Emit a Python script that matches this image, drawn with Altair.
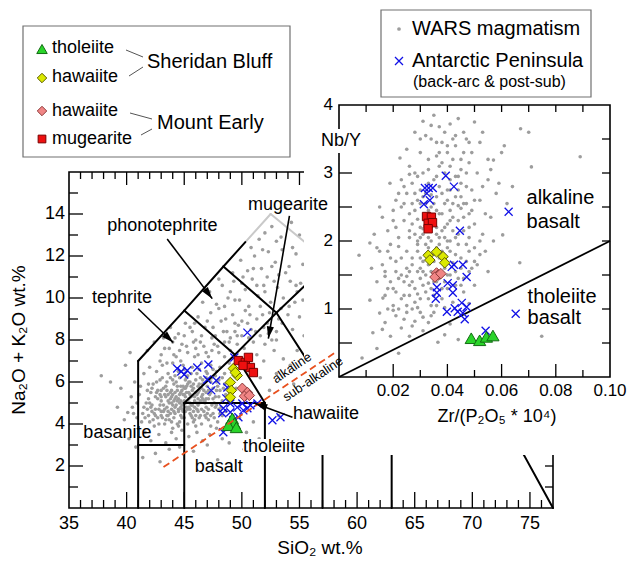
import math
import altair as alt
import pandas as pd

FONT = "Liberation Sans"
W, H = 484, 336
LEFT, TOP, RIGHT, BOTTOM = 69, 172, 76, 54


def px(v):
    return v - LEFT


def py(v):
    return v - TOP


# ---------------- values ----------------
# WARS magmatism, TAS: (SiO2 wt.%, Na2O+K2O wt.%)
wars_tas = [
    (42.1, 3.2), (42.8, 3.5), (43.4, 3.1), (43.9, 3.6), (44.3, 3.3), (44.8, 3.7), (45.4, 3.4), (46.1, 3.6),
    (46.6, 3.2), (47.2, 3.5), (47.8, 3.8), (42.5, 2.6), (43.7, 2.8), (44.6, 2.9), (45.8, 2.7), (47.0, 3.0),
    (48.3, 3.3), (41.6, 3.6), (40.2, 3.3), (40.8, 2.9), (41.4, 2.4), (42.9, 2.2), (47.9, 2.3),
    (41.3, 4.1), (41.9, 4.4), (42.4, 3.9), (42.7, 4.3), (43.0, 4.6), (43.3, 4.0), (43.6, 4.4), (43.9, 4.1),
    (44.2, 4.5), (44.5, 3.9), (44.8, 4.3), (45.1, 4.6), (45.3, 4.0), (45.6, 4.4), (45.9, 4.2), (46.2, 4.6),
    (46.5, 4.0), (46.8, 4.4), (47.1, 4.2), (47.5, 4.5), (47.9, 4.1), (48.3, 4.4), (48.7, 4.0), (42.2, 4.6),
    (44.0, 3.8), (46.0, 3.9), (47.3, 3.9), (40.6, 4.5), (39.8, 4.2),
    (41.5, 4.8), (41.9, 5.2), (42.2, 4.9), (42.5, 5.3), (42.8, 4.7), (43.0, 5.1), (43.3, 5.4), (43.5, 4.8),
    (43.8, 5.2), (44.0, 4.9), (44.3, 5.3), (44.5, 4.7), (44.7, 5.1), (45.0, 5.4), (45.2, 4.8), (45.4, 5.2),
    (45.7, 4.9), (45.9, 5.3), (46.1, 4.7), (46.4, 5.1), (46.6, 5.4), (46.9, 4.8), (47.1, 5.2), (47.4, 4.9),
    (47.7, 5.3), (48.0, 4.7), (48.3, 5.1), (48.6, 5.4), (43.2, 4.6), (44.9, 4.6), (46.3, 5.0), (47.8, 4.9),
    (42.0, 5.0), (43.7, 5.0), (45.5, 5.0), (44.1, 5.1), (46.8, 5.1), (40.9, 5.0), (40.4, 5.3),
    (44.2, 4.8), (44.6, 5.0), (45.0, 5.1), (45.3, 4.7), (45.6, 5.3), (44.8, 5.6), (43.9, 4.7), (45.8, 4.6),
    (46.5, 5.3), (44.4, 5.8), (43.4, 5.3), (45.2, 5.8), (42.7, 5.2), (46.9, 6.2),
    (42.3, 4.2), (42.9, 4.9), (43.1, 4.3), (43.4, 5.8), (43.6, 4.6), (43.9, 5.6), (44.1, 4.3), (44.3, 6.0),
    (44.5, 5.2), (44.7, 4.4), (44.9, 5.0), (45.1, 5.7), (45.3, 5.1), (45.5, 4.5), (45.7, 5.6), (45.9, 4.8),
    (46.1, 5.4), (46.3, 4.3), (46.5, 5.7), (46.7, 4.6), (46.9, 5.2), (47.1, 4.7), (47.3, 5.5), (47.6, 5.0),
    (43.0, 4.4), (43.5, 5.6), (44.0, 5.4), (44.6, 4.1), (45.4, 5.5), (45.8, 5.9), (46.2, 5.2), (46.7, 5.6),
    (47.3, 4.4), (42.5, 4.7), (42.1, 5.5), (41.7, 5.0), (41.4, 4.5), (41.1, 5.4), (40.9, 4.3), (40.5, 4.8),
    (43.8, 6.2), (44.5, 6.5), (45.6, 6.4), (46.4, 6.2), (47.0, 6.4), (47.8, 6.5), (48.3, 6.2), (48.8, 6.0),
    (48.0, 5.3), (48.6, 4.6),
    (41.6, 4.3), (41.8, 4.7), (42.0, 4.1), (42.2, 5.7), (42.4, 4.5), (42.6, 6.0), (42.8, 4.0), (43.0, 5.3),
    (43.2, 4.9), (43.4, 4.2), (43.6, 5.1), (43.8, 4.5), (44.0, 6.1), (44.2, 5.5), (44.4, 4.0), (44.6, 5.4),
    (44.8, 4.9), (45.0, 4.3), (45.2, 6.2), (45.4, 4.8), (45.6, 5.8), (45.8, 4.1), (46.0, 5.5), (46.2, 4.9),
    (46.4, 4.4), (46.6, 6.1), (46.8, 5.0), (47.0, 4.5), (47.2, 5.4), (47.4, 6.2), (47.6, 4.3), (47.8, 5.6),
    (48.0, 6.1), (48.2, 4.8), (48.4, 5.7), (42.1, 4.8), (42.7, 5.6), (43.3, 4.7), (43.9, 5.3), (44.5, 4.6),
    (45.1, 5.3), (45.7, 4.3), (46.3, 5.9), (46.9, 4.3), (47.5, 5.2), (48.1, 4.5), (41.9, 5.9), (42.5, 4.4),
    (43.1, 6.2), (43.7, 4.2), (44.3, 4.9), (44.9, 5.4), (45.5, 4.7), (46.1, 5.0), (46.7, 5.1), (47.3, 6.0),
    (47.9, 5.8), (42.9, 5.4), (43.5, 4.4), (44.1, 4.6), (44.7, 5.8), (45.3, 5.9), (45.9, 5.1), (46.5, 4.7),
    (47.1, 5.6), (47.7, 4.8), (44.4, 5.1), (45.0, 5.7), (45.6, 4.9), (46.2, 5.5), (43.6, 5.4), (44.2, 5.2),
    (44.8, 4.7), (45.4, 6.0), (46.0, 4.4), (46.6, 5.2), (45.1, 5.0), (44.7, 4.8), (45.5, 5.4), (43.9, 5.0),
    (41.8, 5.6), (42.3, 5.9), (42.6, 5.5), (42.9, 6.1), (43.2, 5.7), (43.5, 6.0), (43.8, 5.5), (44.1, 5.9),
    (44.4, 5.6), (44.6, 6.2), (44.9, 5.8), (45.2, 5.5), (45.5, 6.0), (45.8, 5.7), (46.0, 6.1), (46.3, 5.6),
    (46.6, 5.9), (46.9, 5.5), (47.2, 6.1), (47.5, 5.7), (47.8, 6.0), (48.1, 5.6), (48.5, 5.9), (43.0, 5.6),
    (44.7, 5.5), (46.2, 5.8), (47.0, 5.8), (45.1, 6.1), (41.2, 5.8), (40.7, 6.0),
    (42.6, 6.5), (43.1, 6.8), (43.6, 6.4), (44.0, 6.9), (44.5, 6.5), (44.9, 6.8), (45.3, 6.3), (45.7, 6.7),
    (46.1, 6.4), (46.5, 6.9), (46.9, 6.5), (47.3, 6.8), (47.7, 6.3), (48.1, 6.7), (48.5, 6.4), (48.9, 6.9),
    (45.0, 6.6), (46.3, 6.6), (47.5, 6.6), (44.2, 6.3), (49.3, 6.6),
    (43.0, 7.3), (43.7, 7.6), (44.3, 7.2), (44.8, 7.8), (45.3, 7.4), (45.8, 7.9), (46.2, 7.3), (46.7, 7.7),
    (47.1, 7.2), (47.6, 7.8), (48.0, 7.4), (48.5, 7.9), (49.0, 7.5), (49.6, 7.8), (50.2, 7.6), (46.0, 7.6),
    (47.4, 7.5), (44.6, 7.5), (51.0, 7.9), (50.6, 8.1),
    (43.5, 6.9), (44.1, 7.3), (44.7, 7.0), (45.2, 7.7), (45.9, 7.2), (46.4, 7.9), (46.9, 7.4), (47.4, 8.1),
    (47.9, 7.7), (48.4, 8.4), (48.9, 7.9), (49.4, 8.8), (50.0, 8.2), (50.5, 8.8), (51.2, 8.4), (51.8, 9.2),
    (52.3, 8.3), (53.2, 9.0), (54.1, 9.6), (54.7, 10.6), (53.8, 11.2), (52.6, 11.5), (51.3, 10.6), (50.1, 11.0),
    (49.0, 10.3), (48.5, 9.6), (47.0, 8.9), (45.9, 8.8), (45.0, 8.2), (44.2, 8.1),
    (41.8, 7.5), (42.4, 7.9), (43.2, 8.1), (43.8, 8.6), (42.9, 7.0), (42.0, 6.7), (41.5, 6.4),
    (44.5, 8.3), (45.1, 8.8), (45.7, 8.4), (46.2, 9.1), (46.8, 8.6), (47.3, 9.3), (47.7, 8.2), (48.2, 8.9),
    (48.7, 8.4), (49.2, 9.2), (49.7, 8.7), (50.3, 9.4), (50.8, 8.5), (51.3, 9.0), (51.9, 8.6), (52.4, 9.3),
    (46.5, 8.2), (49.0, 8.1), (53.0, 8.4), (52.6, 8.0),
    (47.5, 8.6), (48.0, 9.5), (48.6, 9.0), (49.4, 9.9), (50.0, 10.7), (50.7, 9.2), (51.6, 9.6), (52.0, 10.3),
    (52.8, 10.8), (53.4, 9.5), (54.0, 9.2), (54.6, 9.8), (55.1, 10.7), (49.4, 8.4), (50.0, 8.9), (51.6, 8.2),
    (52.2, 8.8), (53.5, 8.8), (54.4, 8.5), (55.0, 9.1), (48.5, 7.2), (49.6, 8.2), (45.5, 8.6), (46.0, 8.0),
    (44.0, 7.9), (43.3, 7.6), (50.5, 7.1), (51.3, 7.3), (52.0, 7.8), (53.0, 8.0),
    (46.6, 9.8), (47.2, 10.3), (47.8, 9.7), (48.3, 10.6), (48.8, 10.0), (49.3, 10.8), (49.8, 9.9), (50.3, 10.4),
    (50.9, 10.9), (51.4, 10.1), (51.9, 10.6), (52.5, 9.8), (53.1, 10.5), (53.6, 10.0), (54.2, 10.8), (54.8, 10.3),
    (48.0, 10.9), (50.6, 9.6), (52.2, 11.0), (55.3, 9.9),
    (49.2, 11.2), (49.9, 11.8), (50.5, 11.3), (51.1, 12.0), (51.7, 11.4), (52.3, 12.2), (52.9, 11.7), (53.5, 12.3),
    (54.1, 11.5), (54.7, 12.1), (55.3, 11.6), (50.8, 12.4), (53.2, 11.1), (55.7, 12.0), (51.0, 11.4), (51.8, 12.3),
    (53.0, 12.7), (54.4, 12.4),
    (51.5, 12.8), (52.6, 13.4), (53.4, 12.9), (54.3, 13.6), (55.0, 13.0), (55.6, 13.8), (53.8, 14.3), (52.0, 13.1),
    (49.8, 4.3), (50.4, 3.6), (51.0, 4.1), (51.5, 3.3), (50.2, 2.8), (48.9, 3.1), (49.5, 5.7), (50.8, 5.4),
    (51.6, 6.2), (52.4, 5.6), (53.0, 6.4), (53.6, 7.1), (54.2, 6.8), (54.8, 7.5), (55.4, 8.2), (52.8, 7.5),
    (51.9, 7.0), (53.2, 4.4), (54.5, 5.9),
    (39.5, 5.7), (39.9, 6.8), (40.3, 7.4), (39.2, 4.8), (38.6, 6.0), (37.8, 6.3), (40.1, 4.55),
]

# Antarctic Peninsula (back-arc & post-subduction), TAS
ap_tas = [
    (50.48, 8.35), (44.39, 6.64), (45.0, 6.36), (45.26, 6.55), (46.13, 6.69), (47.09, 6.83), (47.0, 6.12),
    (47.78, 6.07), (47.35, 5.6), (48.74, 5.74), (48.65, 5.22), (48.39, 4.75), (49.0, 4.98), (49.6, 4.79),
    (48.3, 4.51), (49.0, 4.56), (49.7, 4.32), (50.13, 4.65), (50.48, 4.75), (50.74, 4.89), (48.39, 3.61),
    (52.65, 4.18), (53.35, 4.32), (49.35, 7.17), (49.26, 4.18), (50.04, 4.98), (51.35, 4.98), (44.74, 6.5),
]

# Sheridan Bluff and Mount Early, TAS
sb_thol_tas = [(49.17, 4.27), (49.35, 4.03), (48.83, 3.94), (49.52, 3.84)]
sb_haw_tas = [(49.26, 6.64), (49.6, 6.31), (49.0, 5.98), (49.43, 6.45), (49.09, 5.6), (49.0, 5.27)]
me_haw_tas = [(50.04, 5.7), (50.48, 5.5), (50.22, 5.32), (50.65, 5.36)]
me_mug_tas = [(49.7, 7.02), (50.3, 6.93), (50.57, 7.17), (50.74, 6.69), (51.0, 6.45), (50.1, 6.79)]

# WARS magmatism: (Zr/(P2O5*10^4), Nb/Y)
wars_nby = [
    (0.028, 3.6), (0.031, 3.76), (0.034, 3.5), (0.037, 3.68), (0.040, 3.4), (0.043, 3.55), (0.046, 3.3),
    (0.050, 3.75), (0.052, 3.45), (0.055, 3.2), (0.057, 3.19), (0.060, 3.3), (0.067, 3.65), (0.070, 3.6),
    (0.071, 3.09), (0.089, 3.24), (0.0225, 3.22), (0.026, 3.1), (0.030, 3.3), (0.033, 3.05), (0.036, 3.25),
    (0.039, 3.0), (0.042, 3.2), (0.045, 3.05), (0.048, 3.15), (0.051, 3.0), (0.035, 3.85), (0.041, 3.72),
    (0.044, 3.8), (0.053, 3.6), (0.047, 3.5), (0.038, 3.45),
    (0.0188, 2.85), (0.021, 2.6), (0.023, 2.9), (0.025, 2.7), (0.027, 2.55), (0.029, 2.95), (0.031, 2.65),
    (0.033, 2.85), (0.035, 2.55), (0.036, 2.95), (0.038, 2.7), (0.040, 2.6), (0.041, 2.9), (0.043, 2.65),
    (0.045, 2.85), (0.047, 2.55), (0.049, 2.75), (0.052, 2.6), (0.055, 2.9), (0.058, 2.7), (0.015, 2.5),
    (0.030, 2.75), (0.037, 2.8), (0.044, 2.52), (0.026, 2.98), (0.034, 2.68), (0.062, 2.55),
    (0.013, 2.1), (0.016, 2.35), (0.018, 2.15), (0.020, 2.45), (0.022, 2.05), (0.024, 2.3), (0.026, 2.15),
    (0.028, 2.45), (0.030, 2.05), (0.032, 2.35), (0.034, 2.5), (0.036, 2.1), (0.037, 2.4), (0.039, 2.2),
    (0.041, 2.45), (0.043, 2.05), (0.044, 2.3), (0.046, 2.15), (0.048, 2.4), (0.050, 2.25), (0.053, 2.1),
    (0.056, 2.35), (0.0604, 2.09), (0.0114, 1.97), (0.027, 2.25), (0.035, 2.25), (0.040, 2.0), (0.029, 2.32),
    (0.045, 2.48), (0.031, 2.18),
    (0.0074, 1.79), (0.012, 1.6), (0.015, 1.85), (0.017, 1.55), (0.019, 1.95), (0.021, 1.7), (0.023, 1.5),
    (0.025, 1.85), (0.027, 1.65), (0.029, 1.95), (0.031, 1.55), (0.033, 1.9), (0.035, 1.7), (0.037, 1.95),
    (0.039, 1.6), (0.041, 1.85), (0.043, 1.55), (0.045, 1.75), (0.047, 1.95), (0.049, 1.6), (0.052, 1.8),
    (0.055, 1.55), (0.0667, 1.68), (0.022, 1.92), (0.030, 1.75), (0.036, 1.52), (0.042, 1.68), (0.026, 1.55),
    (0.048, 1.85),
    (0.0114, 1.13), (0.0162, 1.16), (0.014, 1.4), (0.018, 1.3), (0.020, 1.05), (0.022, 1.45), (0.024, 1.2),
    (0.026, 1.35), (0.028, 1.1), (0.030, 1.45), (0.032, 1.25), (0.034, 1.05), (0.036, 1.4), (0.038, 1.15),
    (0.040, 1.3), (0.042, 1.1), (0.044, 1.45), (0.046, 1.25), (0.048, 1.08), (0.050, 1.35), (0.021, 1.25),
    (0.027, 1.0), (0.033, 1.38), (0.017, 1.48), (0.039, 1.02), (0.025, 1.48),
    (0.0125, 0.65), (0.015, 0.94), (0.017, 0.8), (0.019, 0.6), (0.021, 0.9), (0.023, 0.72), (0.025, 0.95),
    (0.028, 0.82), (0.031, 0.68), (0.034, 0.9), (0.0365, 0.51), (0.039, 0.62), (0.041, 0.78), (0.044, 0.55),
    (0.0748, 0.6), (0.020, 0.98), (0.030, 0.95), (0.026, 0.6),
    (0.0085, 0.28), (0.014, 0.42), (0.022, 0.35),
    (0.030, 1.6), (0.032, 1.8), (0.034, 2.0), (0.036, 2.2), (0.038, 2.4), (0.040, 1.5), (0.031, 2.1),
    (0.033, 2.3), (0.035, 1.4), (0.037, 1.75), (0.039, 2.05), (0.041, 2.3), (0.029, 1.85), (0.034, 1.55),
    (0.036, 1.9), (0.038, 1.3), (0.032, 2.55), (0.040, 1.9), (0.042, 2.15), (0.044, 1.95),
    (0.027, 2.85), (0.029, 2.6), (0.031, 3.0), (0.033, 2.45), (0.035, 2.9), (0.037, 3.1), (0.039, 2.55),
    (0.041, 2.75), (0.043, 2.95), (0.045, 2.65), (0.047, 3.0), (0.049, 2.45), (0.024, 2.55), (0.026, 2.4),
    (0.028, 2.1), (0.030, 2.55), (0.032, 1.95), (0.034, 2.2), (0.036, 2.45), (0.038, 1.85), (0.040, 2.25),
    (0.042, 2.55), (0.044, 2.1), (0.046, 2.35), (0.048, 2.05), (0.050, 1.9), (0.023, 1.75), (0.025, 1.6),
    (0.027, 1.4), (0.029, 1.55), (0.031, 1.35), (0.033, 1.65), (0.035, 1.2), (0.037, 1.45), (0.039, 1.75),
    (0.041, 1.5), (0.043, 1.8), (0.045, 1.35), (0.047, 1.7), (0.019, 1.4), (0.021, 1.55), (0.023, 1.15),
    (0.025, 1.05), (0.029, 1.22), (0.031, 0.88), (0.033, 1.15), (0.017, 1.2), (0.019, 1.75), (0.021, 2.2),
    (0.023, 2.5), (0.025, 3.35), (0.032, 3.55), (0.040, 3.3), (0.046, 3.6), (0.054, 2.4), (0.057, 2.0),
    (0.051, 1.65), (0.053, 2.8),
    (0.026, 2.05), (0.028, 2.7), (0.030, 2.2), (0.032, 2.7), (0.034, 2.35), (0.036, 2.65), (0.038, 2.15),
    (0.040, 2.75), (0.042, 2.35), (0.044, 2.75), (0.046, 2.55), (0.048, 2.2), (0.033, 3.2), (0.037, 3.3),
    (0.041, 3.1), (0.043, 3.4), (0.045, 3.2), (0.049, 3.3), (0.039, 3.6), (0.036, 3.45), (0.027, 1.75),
    (0.029, 2.0), (0.031, 1.7), (0.033, 2.05), (0.035, 1.8), (0.037, 2.05), (0.039, 1.4), (0.041, 2.0),
    (0.043, 1.35), (0.045, 1.6), (0.024, 1.4), (0.026, 1.2), (0.028, 1.3), (0.030, 1.15), (0.032, 1.5),
    (0.034, 1.3), (0.036, 1.05), (0.020, 1.3), (0.022, 1.0), (0.024, 0.85), (0.018, 1.0), (0.016, 0.7),
    (0.027, 0.75), (0.029, 1.02), (0.033, 0.8), (0.035, 0.95), (0.046, 1.45), (0.048, 1.55), (0.050, 1.7),
    (0.052, 2.0), (0.054, 1.85), (0.050, 2.6), (0.047, 2.8), (0.044, 2.95), (0.028, 3.0), (0.024, 2.8),
    (0.022, 2.7), (0.020, 2.3), (0.018, 1.85), (0.016, 1.65), (0.014, 1.9), (0.030, 3.5), (0.034, 3.7),
    (0.042, 3.5), (0.038, 3.15), (0.048, 3.45), (0.056, 3.05), (0.059, 2.85), (0.061, 3.4), (0.064, 2.8),
]

ap_nby = [
    (0.0394, 2.96), (0.0317, 2.78), (0.0331, 2.78), (0.0346, 2.78), (0.0324, 2.7), (0.0424, 2.8),
    (0.0335, 2.6), (0.0313, 2.54), (0.0626, 2.43), (0.0446, 2.15), (0.0424, 1.65), (0.0457, 1.65),
    (0.0416, 1.62), (0.0471, 1.47), (0.0361, 1.32), (0.0401, 1.38), (0.042, 1.35), (0.0361, 1.24),
    (0.042, 1.24), (0.0357, 1.15), (0.0398, 0.96), (0.0427, 1.01), (0.0453, 1.09), (0.0471, 1.03),
    (0.0457, 0.94), (0.0464, 0.85), (0.0438, 0.96), (0.0541, 0.68), (0.0652, 0.93),
]

sb_thol_nby = [(0.0488, 0.57), (0.0519, 0.54), (0.0544, 0.59), (0.0568, 0.61)]
sb_haw_nby = [(0.0329, 1.79), (0.036, 1.84), (0.0384, 1.77), (0.039, 1.68), (0.0335, 1.72)]
me_haw_nby = [(0.036, 1.53), (0.0366, 1.5), (0.0354, 1.47), (0.0376, 1.52)]
me_mug_nby = [(0.0323, 2.36), (0.0341, 2.35), (0.0329, 2.26), (0.0345, 2.27), (0.0329, 2.18)]

# TAS field boundaries (Le Bas et al., 1986) as segments
tas_black = [
    (41, 0, 41, 7), (41, 7, 45, 9.4), (45, 9.4, 48.4, 11.5), (48.4, 11.5, 50.3, 12.66),
    (41, 3, 45, 3), (45, 0, 45, 5), (45, 5, 52, 5), (52, 0, 52, 5),
    (45, 5, 49.4, 7.3), (49.4, 7.3, 53, 9.3), (53, 9.3, 57.6, 11.7),
    (45, 9.4, 49.4, 7.3), (49.4, 7.3, 52, 5),
    (48.4, 11.5, 53, 9.3), (53, 9.3, 57, 5.9),
    (57, 0, 57, 5.9), (63, 0, 63, 7), (77, 0, 69, 8),
]
tas_faint = [(50.3, 12.66, 52.5, 14), (52.5, 14, 57.6, 11.7)]

# alkaline / sub-alkaline divide
alk_divide = [(43.2, 1.95), (58.1, 7.4)]
# alkaline basalt / tholeiite basalt divide, Nb/Y = 20 * Zr/P2O5
nby_divide = [(0.0, 0.0), (0.1, 2.0)]

field_names = ["phonotephrite", "tephrite", "basanite", "basalt"]
field_x = [43.1, 39.6, 39.2, 48.0]
field_y = [13.45, 10.0, 3.55, 1.95]

# arrows from labels to fields: x1, y1, x2, y2
arrows_main = [(43.52, 12.81, 47.43, 9.97), (41.0, 9.49, 44.04, 7.88), (54.13, 13.91, 52.3, 8.07)]
arrow_hawaiite = [(54.39, 4.32, 51.17, 4.98)]

# tick positions and tick labels
si_ticks = list(range(36, 77))
alk_ticks = list(range(1, 16))
zr_ticks = [round(i * 0.01, 2) for i in range(1, 10)]
nby_ticks_left = [0.5, 1, 1.5, 2, 2.5, 3]
nby_ticks_right = [0.5, 1, 1.5, 2, 2.5, 3, 3.5]
si_labels = [35, 40, 45, 50, 55, 60, 65, 70, 75]
alk_labels = [2, 4, 6, 8, 10, 12, 14]
zr_labels = [0.02, 0.04, 0.06, 0.08, 0.10]
nby_labels = [1, 2, 3, 4]

# ---------------- styles ----------------
GRAY = "#9d9d9d"
BLUE = "#1010e6"
CROSS = "M -1 -1 L 1 1 M -1 1 L 1 -1"
HEAD = "M 0 0 L 0.6 2 L -0.6 2 Z"
STYLES = {
    "sb_thol": dict(shape="triangle-up", size=150, fill="#2ad42a", stroke="#136b13"),
    "sb_haw": dict(shape="diamond", size=110, fill="#dbe900", stroke="#5d5d00"),
    "me_haw": dict(shape="diamond", size=110, fill="#f08585", stroke="#8e3b3b"),
    "me_mug": dict(shape="square", size=70, fill="#ee1010", stroke="#780000"),
}

XS = alt.Scale(domain=[35, 77], nice=False, zero=False)
YS = alt.Scale(domain=[0, 16], nice=False, zero=False)
XI_RANGE = [px(339), px(610)]
YI_RANGE = [py(377), py(105)]
XI = alt.Scale(domain=[0, 0.1], range=XI_RANGE, nice=False, zero=False)
YI = alt.Scale(domain=[0, 4], range=YI_RANGE, nice=False, zero=False)

# pixels per data unit, used to express tick lengths in data units
KX, KY = W / 42.0, H / 16.0
KXI = (XI_RANGE[1] - XI_RANGE[0]) / 0.1
KYI = (YI_RANGE[0] - YI_RANGE[1]) / 4.0
dummy = pd.DataFrame({"d": [0]})


def xy(pairs):
    return pd.DataFrame(pairs, columns=["x", "y"])


def enc(xs, ys, xa=None, ya=None):
    return dict(x=alt.X("x:Q", scale=xs, axis=xa), y=alt.Y("y:Q", scale=ys, axis=ya))


def segs(rows, xs, ys, color, width, cap="round"):
    d = pd.DataFrame(rows, columns=["x", "y", "x2", "y2"])
    return alt.Chart(d).mark_rule(color=color, strokeWidth=width, strokeCap=cap).encode(
        x=alt.X("x:Q", scale=xs, axis=None), y=alt.Y("y:Q", scale=ys, axis=None),
        x2="x2:Q", y2="y2:Q")


def xticks(values, y0, length, k, sign):
    return [(v, y0, v, y0 + sign * length(v) / k) for v in values]


def yticks(values, x0, length, k, sign):
    return [(x0, v, x0 + sign * length(v) / k, v) for v in values]


def xtick_labels(values, fmt, xs, ypix, fs):
    d = pd.DataFrame({"v": values, "t": [fmt.format(v) for v in values]})
    return alt.Chart(d).mark_text(font=FONT, fontSize=fs, color="black", baseline="middle").encode(
        x=alt.X("v:Q", scale=xs, axis=None), y=alt.value(ypix), text="t:N")


def ytick_labels(values, fmt, ys, xpix, fs):
    d = pd.DataFrame({"v": values, "t": [fmt.format(v) for v in values]})
    return alt.Chart(d).mark_text(font=FONT, fontSize=fs, color="black", align="right",
                                  baseline="middle").encode(
        y=alt.Y("v:Q", scale=ys, axis=None), x=alt.value(xpix), text="t:N")


def symbols(pairs, xs, ys, style, sw=1.0):
    return alt.Chart(xy(pairs)).mark_point(filled=True, opacity=1, strokeWidth=sw, **style).encode(
        **enc(xs, ys))


def crosses(pairs, xs, ys):
    return alt.Chart(xy(pairs)).mark_point(shape=CROSS, size=64, filled=False, stroke=BLUE,
                                           strokeWidth=1.3, opacity=1).encode(**enc(xs, ys))


def dots(pairs, xs, ys):
    return alt.Chart(xy(pairs)).mark_circle(size=13, color=GRAY, opacity=1).encode(**enc(xs, ys))


def arrows(rows, xs, ys):
    d = pd.DataFrame(rows, columns=["x", "y", "x2", "y2"])
    d["ang"] = [math.degrees(math.atan2((r[2] - r[0]) * KX, (r[3] - r[1]) * KY)) % 360 for r in rows]
    shaft = alt.Chart(d).mark_rule(color="black", strokeWidth=1.6).encode(
        x=alt.X("x:Q", scale=xs, axis=None), y=alt.Y("y:Q", scale=ys, axis=None),
        x2="x2:Q", y2="y2:Q")
    head = alt.Chart(d).mark_point(shape=HEAD, size=144, filled=True, color="black", opacity=1).encode(
        x=alt.X("x2:Q", scale=xs, axis=None), y=alt.Y("y2:Q", scale=ys, axis=None),
        angle=alt.Angle("ang:Q", scale=None))
    return shaft + head


def label(txt, x, y, size=18, align="left", angle=0, color="black"):
    kw = dict(text=txt, font=FONT, fontSize=size, align=align, baseline="middle", color=color)
    if angle:
        kw["angle"] = angle
    return alt.Chart(dummy).mark_text(**kw).encode(x=alt.value(px(x)), y=alt.value(py(y)))


def vrect(x1, y1, x2, y2, fill="white", stroke=None, sw=1.0):
    kw = dict(fill=fill, opacity=1)
    if stroke:
        kw.update(stroke=stroke, strokeWidth=sw)
    return alt.Chart(dummy).mark_rect(**kw).encode(
        x=alt.value(px(x1)), x2=alt.value(px(x2)), y=alt.value(py(y1)), y2=alt.value(py(y2)))


def vrule(x1, y1, x2, y2, color="#555555", sw=1.0):
    return alt.Chart(dummy).mark_rule(color=color, strokeWidth=sw).encode(
        x=alt.value(px(x1)), x2=alt.value(px(x2)), y=alt.value(py(y1)), y2=alt.value(py(y2)))


def vsym(x, y, style=None, cross=False, dot=False):
    if cross:
        m = alt.Chart(dummy).mark_point(shape=CROSS, size=64, filled=False, stroke=BLUE,
                                        strokeWidth=1.3, opacity=1)
    elif dot:
        m = alt.Chart(dummy).mark_circle(size=14, color=GRAY, opacity=1)
    else:
        m = alt.Chart(dummy).mark_point(filled=True, opacity=1, strokeWidth=1.0, **style)
    return m.encode(x=alt.value(px(x)), y=alt.value(py(y)))


# ---------------- TAS diagram ----------------
frame_df = pd.DataFrame({"x": [35], "x2": [77], "y": [0], "y2": [16]})
main_frame = alt.Chart(frame_df).mark_rect(fillOpacity=0, stroke="black", strokeWidth=1.6).encode(
    x=alt.X("x:Q", scale=XS, axis=None), y=alt.Y("y:Q", scale=YS, axis=None),
    x2="x2:Q", y2="y2:Q")

main_ticks = (
    xticks(si_ticks, 0, lambda v: 16 if v % 5 == 0 else 8, KY, 1)
    + xticks(si_ticks, 16, lambda v: 13 if v % 5 == 0 else 7, KY, -1)
    + yticks(alk_ticks, 35, lambda v: 14 if v % 2 == 0 else 9, KX, 1)
    + yticks(alk_ticks, 77, lambda v: 8, KX, -1)
)

field_df = pd.DataFrame({"t": field_names, "x": field_x, "y": field_y})
field_text = alt.Chart(field_df).mark_text(font=FONT, fontSize=18, color="black").encode(
    text="t:N", **enc(XS, YS))

main_group = alt.layer(
    main_frame,
    segs(main_ticks, XS, YS, "black", 1.3, "butt"),
    xtick_labels(si_labels, "{:d}", XS, py(524), 18),
    ytick_labels(alk_labels, "{:d}", YS, px(65), 18),
    dots(wars_tas, XS, YS),
    segs(tas_faint, XS, YS, "#c9c9c9", 2.0),
    segs(tas_black, XS, YS, "black", 2.0),
    crosses(ap_tas, XS, YS),
    symbols(sb_thol_tas, XS, YS, STYLES["sb_thol"]),
    symbols(sb_haw_tas, XS, YS, STYLES["sb_haw"]),
    symbols(me_haw_tas, XS, YS, STYLES["me_haw"]),
    symbols(me_mug_tas, XS, YS, STYLES["me_mug"]),
    field_text,
    arrows(arrows_main, XS, YS),
)

# white panel holding the inset
cover = vrect(304, 100, 629, 455)

# ---------------- Nb/Y inset ----------------
inset_df = pd.DataFrame({"x": [0.0], "x2": [0.1], "y": [0.0], "y2": [4.0]})
inset_frame = alt.Chart(inset_df).mark_rect(fill="white", stroke="black", strokeWidth=1.6).encode(
    x=alt.X("x:Q", scale=XI, axis=None), y=alt.Y("y:Q", scale=YI, axis=None),
    x2="x2:Q", y2="y2:Q")

inset_ticks = (
    xticks(zr_ticks, 0, lambda v: 13 if round(v * 100) % 2 == 0 else 7, KYI, 1)
    + xticks(zr_ticks, 4, lambda v: 7, KYI, -1)
    + yticks(nby_ticks_left, 0, lambda v: 13, KXI, 1)
    + yticks(nby_ticks_right, 0.1, lambda v: 8, KXI, -1)
)

inset_lab = pd.DataFrame({"t": ["alkaline", "basalt", "tholeiite", "basalt"],
                          "x": [0.0692, 0.0692, 0.0696, 0.0696],
                          "y": [2.63, 2.28, 1.18, 0.87]})
inset_text = alt.Chart(inset_lab).mark_text(font=FONT, fontSize=20, color="black", align="left").encode(
    text="t:N", **enc(XI, YI))

divide_line = alt.Chart(xy(nby_divide)).mark_line(color="black", strokeWidth=1.8).encode(**enc(XI, YI))

inset_group = alt.layer(
    inset_frame,
    segs(inset_ticks, XI, YI, "black", 1.3, "butt"),
    xtick_labels(zr_labels, "{:.2f}", XI, py(391), 17),
    ytick_labels(nby_labels, "{:d}", YI, px(333), 17),
    dots(wars_nby, XI, YI),
    divide_line,
    crosses(ap_nby, XI, YI),
    symbols(sb_thol_nby, XI, YI, STYLES["sb_thol"]),
    symbols(sb_haw_nby, XI, YI, STYLES["sb_haw"]),
    symbols(me_haw_nby, XI, YI, STYLES["me_haw"]),
    symbols(me_mug_nby, XI, YI, STYLES["me_mug"]),
    inset_text,
)

# ---------------- annotations over the TAS diagram ----------------
alk_line = alt.Chart(xy(alk_divide)).mark_line(color="#e8501e", strokeWidth=1.8, strokeDash=[7, 4]).encode(
    **enc(XS, YS))
mug_text = alt.Chart(pd.DataFrame({"t": ["mugearite"], "x": [54.0], "y": [14.45]})).mark_text(
    font=FONT, fontSize=18, color="black").encode(text="t:N", **enc(XS, YS))
overlay = alt.layer(
    alk_line,
    mug_text,
    arrows(arrow_hawaiite, XS, YS),
)

texts = [
    vrect(243, 439, 305, 456),
    label("tholeiite", 274, 447, 18, "center"),
    label("hawaiite", 293, 414, 18),
    label("alkaline", 292, 368, 13, "center", 326),
    label("sub-alkaline", 313, 379, 13, "center", 326),
    vrect(320, 129, 362, 153),
    label("Nb/Y", 341, 141, 18, "center"),
    label("Zr/(P\u2082O\u2085 * 10\u2074)", 497, 417, 18, "center"),
    label("SiO\u2082 wt.%", 320, 548, 19, "center"),
    label("Na\u2082O + K\u2082O wt.%", 19, 340, 19, "center", 270),
]

# ---------------- legend boxes ----------------
legend = [
    vrect(23, 26, 290, 157, fill="white", stroke="#707070", sw=1.2),
    vsym(42, 49, STYLES["sb_thol"] | {"size": 110}),
    vsym(42, 78, STYLES["sb_haw"] | {"size": 90}),
    vsym(42, 111, STYLES["me_haw"] | {"size": 90}),
    vsym(42, 139, STYLES["me_mug"] | {"size": 60}),
    label("tholeiite", 52, 48, 18),
    label("hawaiite", 52, 77, 18),
    label("hawaiite", 52, 111, 18),
    label("mugearite", 52, 139, 18),
    label("Sheridan Bluff", 147, 62, 20),
    label("Mount Early", 157, 123, 20),
    vrule(126, 50, 143, 57),
    vrule(129, 76, 143, 67),
    vrule(130, 113, 152, 119),
    vrule(141, 135, 152, 129),
    vrect(381, 10, 591, 97, fill="white", stroke="#707070", sw=1.2),
    vsym(399, 29, dot=True),
    vsym(399, 61, cross=True),
    label("WARS magmatism", 412, 29, 20),
    label("Antarctic Peninsula", 412, 61, 20),
    label("(back-arc & post-sub)", 413, 82, 16),
]

chart = alt.layer(
    main_group, cover, inset_group, overlay, *texts, *legend
).resolve_scale(
    x="independent", y="independent"
).properties(
    width=W, height=H,
    padding={"left": LEFT, "top": TOP, "right": RIGHT, "bottom": BOTTOM},
    autosize=alt.AutoSizeParams(type="none"),
    background="white",
).configure_view(stroke=None)

chart.save("out.html", embed_options={"renderer": "svg", "actions": False})
